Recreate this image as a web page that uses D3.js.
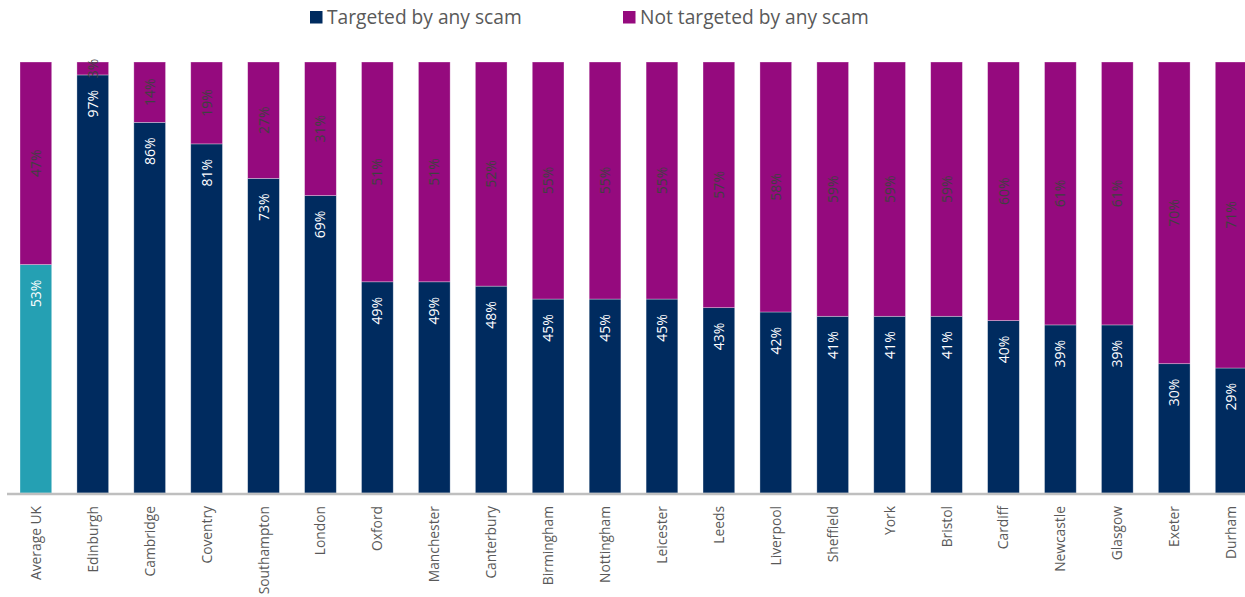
<!DOCTYPE html>
<html>
<head>
<meta charset="utf-8">
<script src="https://cdn.jsdelivr.net/npm/d3@7"></script>
<style>
  html, body { margin: 0; padding: 0; background: #fff; }
  svg { display: block; font-family: "Open Sans", "Noto Sans", sans-serif; }
</style>
</head>
<body>
<svg id="chart" width="1245" height="597"></svg>
<script>
// Share of respondents per city (percent)
const cities = ["Average UK", "Edinburgh", "Cambridge", "Coventry", "Southampton", "London",
  "Oxford", "Manchester", "Canterbury", "Birmingham", "Nottingham", "Leicester", "Leeds",
  "Liverpool", "Sheffield", "York", "Bristol", "Cardiff", "Newcastle", "Glasgow", "Exeter", "Durham"];
const targeted = [53, 97, 86, 81, 73, 69, 49, 49, 48, 45, 45, 45, 43, 42, 41, 41, 41, 40, 39, 39, 30, 29];
const notTargeted = [47, 3, 14, 19, 27, 31, 51, 51, 52, 55, 55, 55, 57, 58, 59, 59, 59, 60, 61, 61, 70, 71];
const seriesNames = ["Targeted by any scam", "Not targeted by any scam"];

const NAVY = "#002b5f", PURPLE = "#950a7e", TEAL = "#25a0b3";

const svg = d3.select("#chart");

const x = d3.scaleBand()
  .domain(cities)
  .range([7.4, 1259.6])
  .paddingInner(0.443)
  .paddingOuter(0.2215);

const y = d3.scaleLinear().domain([0, 100]).range([493, 62]);

const rows = cities.map((c, i) => ({ city: c, t: targeted[i], n: notTargeted[i], i }));

// Bottom segment: targeted
svg.append("g").selectAll("rect").data(rows).join("rect")
  .attr("x", d => x(d.city))
  .attr("width", x.bandwidth())
  .attr("y", d => y(d.t))
  .attr("height", d => y(0) - y(d.t))
  .attr("fill", d => d.i === 0 ? TEAL : NAVY)
  .attr("stroke", "#ffffff").attr("stroke-opacity", 0.45).attr("stroke-width", 0.7);

// Top segment: not targeted
svg.append("g").selectAll("rect").data(rows).join("rect")
  .attr("x", d => x(d.city))
  .attr("width", x.bandwidth())
  .attr("y", d => y(d.t + d.n))
  .attr("height", d => y(d.t) - y(d.t + d.n))
  .attr("fill", PURPLE)
  .attr("stroke", "#ffffff").attr("stroke-opacity", 0.45).attr("stroke-width", 0.7);

// Value labels, rotated
const cx = d => x(d.city) + x.bandwidth() / 2;

svg.append("g").selectAll("text").data(rows).join("text")
  .attr("transform", d => `translate(${cx(d)},${y(d.t) + 15}) rotate(-90)`)
  .attr("text-anchor", "end")
  .attr("dy", "0.36em")
  .attr("fill", "#ffffff")
  .attr("font-size", 14)
  .text(d => d.t + "%");

svg.append("g").selectAll("text").data(rows).join("text")
  .attr("transform", d => `translate(${cx(d)},${(y(d.t) + y(d.t + d.n)) / 2}) rotate(-90)`)
  .attr("text-anchor", "middle")
  .attr("dy", "0.36em")
  .attr("fill", "#404040")
  .attr("font-size", 14)
  .text(d => d.n + "%");

// Category axis
const xAxis = svg.append("g")
  .attr("transform", `translate(0,${y(0) + 1})`)
  .call(d3.axisBottom(x).tickSize(0).tickPadding(0));
xAxis.select(".domain").attr("stroke", "#bfbfbf").attr("stroke-width", 2.5)
  .attr("d", "M7,0H1245");
xAxis.selectAll(".tick text")
  .attr("transform", "translate(0,12) rotate(-90)")
  .attr("text-anchor", "end")
  .attr("dy", "0.36em")
  .attr("y", 0)
  .attr("fill", "#595959")
  .attr("font-size", 13.8)
  .attr("font-family", "'Open Sans', sans-serif");

// Legend
const legend = svg.append("g");
const legendItems = [
  { name: seriesNames[0], color: NAVY, x: 310 },
  { name: seriesNames[1], color: PURPLE, x: 623 }
];
const li = legend.selectAll("g").data(legendItems).join("g")
  .attr("transform", d => `translate(${d.x},0)`);
li.append("rect").attr("x", 0).attr("y", 11).attr("width", 12.5).attr("height", 12.5)
  .attr("fill", d => d.color);
li.append("text").attr("x", 17).attr("y", 24)
  .attr("font-size", 19.2).attr("fill", "#595959")
  .text(d => d.name);
</script>
</body>
</html>
